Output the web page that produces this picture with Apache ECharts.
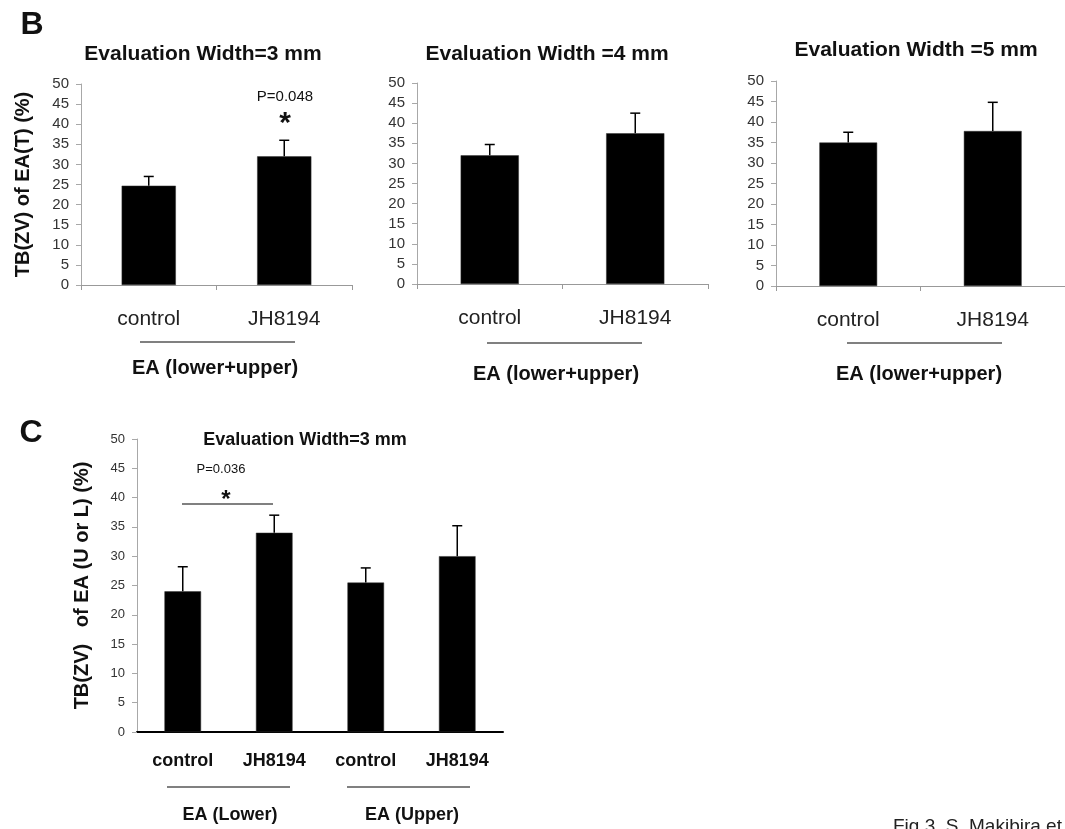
<!DOCTYPE html>
<html>
<head>
    <meta charset="utf-8">
    <script src="https://cdn.jsdelivr.net/npm/echarts@6/dist/echarts.min.js"></script>
</head>
<body style="margin:0;background:#fff">
<div id="main" style="width: 1065px;height:829px;"></div>
<script type="text/javascript">
    // data
    var bCats = ['control', 'JH8194'];
    var b3Mean = [24.7, 32];
    var b3Upper = [27, 36];
    var b4Mean = [32, 37.5];
    var b4Upper = [34.7, 42.5];
    var b5Mean = [35, 37.8];
    var b5Upper = [37.5, 44.8];

    var cCats = ['control', 'JH8194', 'control', 'JH8194'];
    var cMean = [24, 34, 25.5, 30];
    var cUpper = [28.2, 37, 28, 35.2];

    var yMin = 0, yMax = 50, yStep = 5;

    var FONT = 'Arial, "Liberation Sans", sans-serif';
    var myChart = echarts.init(document.getElementById('main'));

    function errorBars(idx, means, upper) {
        return {
            type: 'custom',
            xAxisIndex: idx,
            yAxisIndex: idx,
            z: 5,
            data: upper.map(function (u, i) { return [i, means[i], u]; }),
            renderItem: function (params, api) {
                var base = api.coord([api.value(0), api.value(1)]);
                var top = api.coord([api.value(0), api.value(2)]);
                var cap = 5;
                return {
                    type: 'group',
                    children: [
                        {type: 'line', shape: {x1: base[0], y1: base[1], x2: top[0], y2: top[1]},
                            style: {stroke: '#000', lineWidth: 1.5}},
                        {type: 'line', shape: {x1: top[0] - cap, y1: top[1], x2: top[0] + cap, y2: top[1]},
                            style: {stroke: '#000', lineWidth: 1.5}}
                    ]
                };
            }
        };
    }

    function bars(idx, means) {
        return {
            type: 'bar',
            xAxisIndex: idx,
            yAxisIndex: idx,
            barWidth: '40%',
            itemStyle: {color: '#000', borderColor: '#333', borderWidth: 0.5},
            data: means
        };
    }

    function yAxis(idx, name, gap, labelSize) {
        return {
            type: 'value',
            gridIndex: idx,
            min: yMin, max: yMax, interval: yStep,
            splitLine: {show: false},
            axisLine: {show: true, lineStyle: {color: '#a8a8a8', width: 1}},
            axisTick: {show: true, length: 5, lineStyle: {color: '#a8a8a8'}},
            axisLabel: {fontSize: labelSize, color: '#333', margin: 12, fontFamily: FONT},
            name: name,
            nameLocation: 'middle',
            nameRotate: 90,
            nameGap: gap,
            nameTextStyle: {fontSize: 20, fontWeight: 'bold', color: '#111', fontFamily: FONT}
        };
    }

    function bXAxis(idx) {
        return {
            type: 'category',
            gridIndex: idx,
            data: bCats,
            axisLine: {lineStyle: {color: '#999', width: 1}},
            axisTick: {show: true, length: 5, lineStyle: {color: '#999'}},
            axisLabel: {fontSize: 21, color: '#222', margin: 24, fontFamily: FONT}
        };
    }

    function txt(x, y, text, size, bold, align) {
        return {
            type: 'text', x: x, y: y,
            style: {
                text: text,
                font: (bold ? 'bold ' : '') + size + 'px ' + FONT,
                fill: '#111',
                align: align || 'center',
                verticalAlign: 'middle'
            }
        };
    }

    function hline(x1, x2, y) {
        return {
            type: 'line',
            shape: {x1: x1, y1: y, x2: x2, y2: y},
            style: {stroke: '#808080', lineWidth: 2}
        };
    }

    option = {
        animation: false,
        textStyle: {fontFamily: FONT},
        grid: [
            {left: 81, top: 84, width: 271, height: 201},
            {left: 417, top: 83, width: 291, height: 201},
            {left: 776, top: 81, width: 291, height: 205},
            {left: 137, top: 439, width: 366, height: 293}
        ],
        xAxis: [
            bXAxis(0), bXAxis(1), bXAxis(2),
            {
                type: 'category',
                gridIndex: 3,
                data: cCats,
                axisLine: {lineStyle: {color: '#000', width: 2}},
                axisTick: {show: false},
                axisLabel: {fontSize: 18, fontWeight: 'bold', color: '#111', margin: 20, fontFamily: FONT}
            }
        ],
        yAxis: [
            yAxis(0, 'TB(ZV) of EA(T) (%)', 48, 15),
            yAxis(1, '', 0, 15),
            yAxis(2, '', 0, 15),
            yAxis(3, 'TB(ZV)   of EA (U or L) (%)', 45, 13)
        ],
        series: [
            bars(0, b3Mean), errorBars(0, b3Mean, b3Upper),
            bars(1, b4Mean), errorBars(1, b4Mean, b4Upper),
            bars(2, b5Mean), errorBars(2, b5Mean, b5Upper),
            bars(3, cMean), errorBars(3, cMean, cUpper)
        ],
        graphic: [
            txt(32, 25, 'B', 32, true),
            txt(203, 54, 'Evaluation Width=3 mm', 21, true),
            txt(547, 54, 'Evaluation Width =4 mm', 21, true),
            txt(916, 50, 'Evaluation Width =5 mm', 21, true),
            txt(285, 97, 'P=0.048', 15, false),
            txt(285, 124, '*', 30, true),
            hline(140, 295, 342),
            hline(487, 642, 343),
            hline(847, 1002, 343),
            txt(215, 368, 'EA (lower+upper)', 20, true),
            txt(556, 374, 'EA (lower+upper)', 20, true),
            txt(919, 374, 'EA (lower+upper)', 20, true),

            txt(31, 433, 'C', 32, true),
            txt(305, 440, 'Evaluation Width=3 mm', 18, true),
            txt(221, 469, 'P=0.036', 13, false),
            txt(226, 500, '*', 24, true),
            hline(182, 273, 504),
            hline(167, 290, 787),
            hline(347, 470, 787),
            txt(230, 815, 'EA (Lower)', 18, true),
            txt(412, 815, 'EA (Upper)', 18, true),
            {
                type: 'text', x: 893, y: 817,
                style: {text: 'Fig 3. S. Makibira et', font: '19px ' + FONT, fill: '#222',
                    align: 'left', verticalAlign: 'top'}
            }
        ]
    };

    myChart.setOption(option);
</script>
</body>
</html>
